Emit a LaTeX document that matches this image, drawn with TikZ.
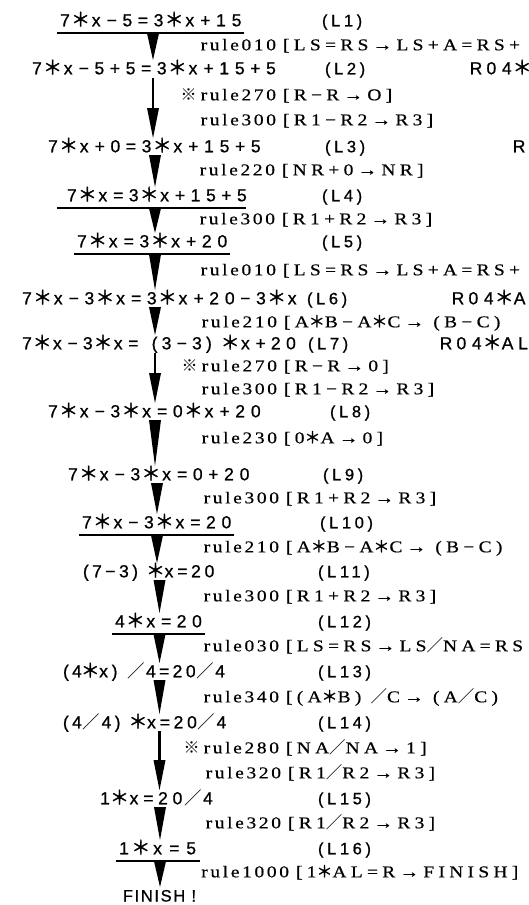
\documentclass[tikz,border=0pt]{standalone}
\usepackage{fontspec}
\setmainfont{Liberation Serif}
\newfontfamily\eqfont{Liberation Sans}[FakeBold=0.8]
\newfontfamily\lblfont{Liberation Sans}[LetterSpace=22,FakeBold=0.8]
\newfontfamily\finfont{Liberation Sans}[LetterSpace=10,FakeBold=0.8]
\newfontfamily\rnfont{Liberation Serif}[FakeStretch=1.18,LetterSpace=16,FakeBold=0.5]
\newfontfamily\rbfont{Liberation Serif}[FakeStretch=1.18,LetterSpace=26,FakeBold=0.5]
\newfontfamily\cjk{Noto Sans CJK JP}
\newfontfamily\cjkb{Noto Sans CJK JP}[FakeBold=1.5]
\newcommand\eqast{{\cjkb\fontsize{19}{19}\selectfont ＊}}
\newcommand\eqminus{−}
\newcommand\eqslash{{\cjk\fontsize{17.5}{20}\selectfont ／}}
\newcommand\rast{{\cjkb\fontsize{16}{16}\selectfont ＊}}
\newcommand\rsl{{\cjk\fontsize{16.5}{18}\selectfont ／}}
\ExplSyntaxOn
\dim_new:N \l_eqcell_w_dim
\dim_new:N \l_eqcell_f_dim
\dim_new:N \l_eqcell_s_dim
\dim_set:Nn \l_eqcell_f_dim {18pt}
\dim_set:Nn \l_eqcell_s_dim {16pt}
\cs_new_protected:Npn \eqcell_one:n #1
  {
    \str_case:nnF {#1}
      {
        {*} { \makebox[\l_eqcell_w_dim]{\eqast} }
        {-} { \makebox[\l_eqcell_w_dim]{\eqminus} }
        {(} { \makebox[\l_eqcell_f_dim][r]{(\hspace*{1.5pt}} }
        {)} { \makebox[\l_eqcell_f_dim][l]{\hspace*{1.5pt})} }
        {/} { \makebox[\l_eqcell_s_dim]{\eqslash} }
      }
      { \makebox[\l_eqcell_w_dim]{#1} }
  }
\NewDocumentCommand \eqtext { O{15.6pt} m }
  {
    \dim_set:Nn \l_eqcell_w_dim {#1}
    \str_map_function:nN {#2} \eqcell_one:n
  }
\ExplSyntaxOff
\newcommand\shortarr[4]{%
  \coordinate (#1t) at (#2,#3);
  \coordinate (#1h) at (#2,#4);
  \fill[arrtri] ([xshift=-6pt]#1t) -- ([xshift=6pt]#1t) -- (#1h) -- cycle;}
\newcommand\longarr[5]{%
  \coordinate (#1t) at (#2,#3);
  \coordinate (#1m) at (#2,#4);
  \coordinate (#1h) at (#2,#5);
  \draw[arrstem] (#1t) -- (#1m);
  \fill[arrtri] ([xshift=-6pt]#1m) -- ([xshift=6pt]#1m) -- (#1h) -- cycle;}
\begin{document}
\begin{tikzpicture}[x=1pt,y=-1pt,
  eq/.style={inner sep=0pt,outer sep=0pt,anchor=base west,font=\eqfont\fontsize{17.5}{20}\selectfont},
  lbl/.style={inner sep=0pt,outer sep=0pt,anchor=base west,font=\lblfont\fontsize{16.5}{20}\selectfont},
  sidetext/.style={inner sep=0pt,outer sep=0pt,anchor=base west,font=\eqfont\fontsize{17.5}{20}\selectfont},
  rname/.style={inner sep=0pt,outer sep=0pt,anchor=base east,font=\rnfont\fontsize{16.5}{18}\selectfont},
  rexpr/.style={inner sep=0pt,outer sep=0pt,anchor=base west,font=\rbfont\fontsize{16.5}{18}\selectfont},
  refmark/.style={inner sep=0pt,outer sep=0pt,anchor=base east,font=\cjk\fontsize{16}{18}\selectfont},
  fintext/.style={inner sep=0pt,outer sep=0pt,anchor=base,font=\finfont\fontsize{16.5}{20}\selectfont},
  uline/.style={line width=2.3pt},
  arrstem/.style={line width=2.6pt},
  arrtri/.style={fill=black}]
\fill[white] (0,0) rectangle (528,905);
\useasboundingbox (0,0) rectangle (528,905);

% equations
\node[eq] (L1) at (57.2,26.3) {\eqtext{7*x-5=3*x+15}};
\node[eq] (L2) at (29.2,74.3) {\eqtext{7*x-5+5=3*x+15+5}};
\node[eq] (L3) at (45.2,152.3) {\eqtext{7*x+0=3*x+15+5}};
\node[eq] (L4) at (64.2,201.3) {\eqtext[15.45pt]{7*x=3*x+15+5}};
\node[eq] (L5) at (74.2,247.3) {\eqtext{7*x=3*x+20}};
\node[eq] (L6) at (19.2,304.3) {\eqtext{7*x-3*x=3*x+20-3*x}};
\node[eq] (L7) at (19.4,349.3) {\eqtext[15.2pt]{7*x-3*x=(3-3)*x+20}};
\node[eq] (L8) at (45.2,417.3) {\eqtext{7*x-3*x=0*x+20}};
\node[eq] (L9) at (65.2,480.3) {\eqtext{7*x-3*x=0+20}};
\node[eq] (L10) at (79.2,528.3) {\eqtext[15.5pt]{7*x-3*x=20}};
\node[eq] (L11) at (72.25,577.3) {\eqtext[13.5pt]{(7-3)*x=20}};
\node[eq] (L12) at (112.3,627.3) {\eqtext[15.4pt]{4*x=20}};
\node[eq] (L13) at (52.35,677.3) {\eqtext[13.3pt]{(4*x)/4=20/4}};
\node[eq] (L14) at (52.25,728.3) {\eqtext[13.5pt]{(4/4)*x=20/4}};
\node[eq] (L15) at (97.75,804.3) {\eqtext[14.5pt]{1*x=20/4}};
\node[eq] (L16) at (115.6,854.3) {\eqtext[16.8pt]{1*x=5}};
\node[fintext] (FIN) at (159.5,901.5) {FINISH !};

% underlines
\draw[uline] ([yshift=-7pt]L1.base west) -- ([yshift=-7pt]L1.base east);
\draw[uline] ([xshift=-7pt,yshift=-7pt]L4.base west) -- ([xshift=-4pt,yshift=-7pt]L4.base east);
\draw[uline] ([yshift=-7pt]L5.base west) -- ([yshift=-7pt]L5.base east);
\draw[uline] ([yshift=-7pt]L10.base west) -- ([yshift=-7pt]L10.base east);
\draw[uline] ([yshift=-7pt]L12.base west) -- ([yshift=-7pt]L12.base east);
\draw[uline] ([yshift=-7pt]L16.base west) -- ([yshift=-7pt]L16.base east);

% line labels
\node[lbl] (l1) at (322,26.3) {(L1)};
\node[lbl] (l2) at (325,74.3) {(L2)};
\node[lbl] (l3) at (325,152.3) {(L3)};
\node[lbl] (l4) at (322,201.3) {(L4)};
\node[lbl] (l5) at (322,247.3) {(L5)};
\node[lbl] (l6) at (307,304.3) {(L6)};
\node[lbl] (l7) at (308,349.3) {(L7)};
\node[lbl] (l8) at (330,417.3) {(L8)};
\node[lbl] (l9) at (323,480.3) {(L9)};
\node[lbl] (l10) at (320,528.3) {(L10)};
\node[lbl] (l11) at (318,577.3) {(L11)};
\node[lbl] (l12) at (318,627.3) {(L12)};
\node[lbl] (l13) at (318,677.3) {(L13)};
\node[lbl] (l14) at (318,728.3) {(L14)};
\node[lbl] (l15) at (318,804.3) {(L15)};
\node[lbl] (l16) at (318,854.3) {(L16)};

% right-hand fragments
\node[sidetext] (s2) at (468.3,74.3) {\eqtext[15.4pt]{R04*}};
\node[sidetext] (s3) at (511.3,152.3) {\eqtext{R}};
\node[sidetext] (s6) at (450.3,304.3) {\eqtext[15.4pt]{R04*A}};
\node[sidetext] (s7) at (438.3,349.3) {\eqtext[15.4pt]{R04*AL}};

% rules
\node[rexpr] (re1) at (283,50.3) {[LS=RS→LS+A=RS+};
\node[rname] (rn1) at ([xshift=-7pt]re1.base west) {rule010};
\node[rexpr] (re2) at (283,100.3) {[R−R→O]};
\node[rname] (rn2) at ([xshift=-7pt]re2.base west) {rule270};
\node[refmark] (m2) at ([xshift=-4pt]rn2.base west) {※};
\node[rexpr] (re3) at (283,125.3) {[R1−R2→R3]};
\node[rname] (rn3) at ([xshift=-7pt]re3.base west) {rule300};
\node[rexpr] (re4) at (282,175.3) {[NR+0→NR]};
\node[rname] (rn4) at ([xshift=-7pt]re4.base west) {rule220};
\node[rexpr] (re5) at (282,224.3) {[R1+R2→R3]};
\node[rname] (rn5) at ([xshift=-7pt]re5.base west) {rule300};
\node[rexpr] (re6) at (283,275.3) {[LS=RS→LS+A=RS+};
\node[rname] (rn6) at ([xshift=-7pt]re6.base west) {rule010};
\node[rexpr] (re7) at (284,327.3) {[A\rast B−A\rast C→ (B−C)};
\node[rname] (rn7) at ([xshift=-7pt]re7.base west) {rule210};
\node[rexpr] (re8) at (284,371.3) {[R−R→0]};
\node[rname] (rn8) at ([xshift=-7pt]re8.base west) {rule270};
\node[refmark] (m8) at ([xshift=-4pt]rn8.base west) {※};
\node[rexpr] (re9) at (284,394.3) {[R1−R2→R3]};
\node[rname] (rn9) at ([xshift=-7pt]re9.base west) {rule300};
\node[rexpr] (re10) at (284,443.3) {[0\rast A→0]};
\node[rname] (rn10) at ([xshift=-7pt]re10.base west) {rule230};
\node[rexpr] (re11) at (286,503.3) {[R1+R2→R3]};
\node[rname] (rn11) at ([xshift=-7pt]re11.base west) {rule300};
\node[rexpr] (re12) at (286,552.3) {[A\rast B−A\rast C→ (B−C)};
\node[rname] (rn12) at ([xshift=-7pt]re12.base west) {rule210};
\node[rexpr] (re13) at (286,601.3) {[R1+R2→R3]};
\node[rname] (rn13) at ([xshift=-7pt]re13.base west) {rule300};
\node[rexpr] (re14) at (286,651.3) {[LS=RS→LS\rsl NA=RS};
\node[rname] (rn14) at ([xshift=-7pt]re14.base west) {rule030};
\node[rexpr] (re15) at (286,702.3) {[(A\rast B) \rsl C→ (A\rsl C)};
\node[rname] (rn15) at ([xshift=-7pt]re15.base west) {rule340};
\node[rexpr] (re16) at (286,753.3) {[NA\rsl NA→1]};
\node[rname] (rn16) at ([xshift=-7pt]re16.base west) {rule280};
\node[refmark] (m16) at ([xshift=-4pt]rn16.base west) {※};
\node[rexpr] (re17) at (288,778.3) {[R1\rsl R2→R3]};
\node[rname] (rn17) at ([xshift=-7pt]re17.base west) {rule320};
\node[rexpr] (re18) at (288,828.3) {[R1\rsl R2→R3]};
\node[rname] (rn18) at ([xshift=-7pt]re18.base west) {rule320};
\node[rexpr] (re19) at (296,877.3) {[1\rast AL=R→FINISH]};
\node[rname] (rn19) at ([xshift=-7pt]re19.base west) {rule1000};

% arrows
\shortarr{a1}{153}{33.3}{60}
\longarr{a2}{153}{78}{108}{138}
\shortarr{a3}{155}{155}{187}
\shortarr{a4}{155}{208.3}{233}
\shortarr{a5}{155}{254.3}{290}
\shortarr{a6}{155}{307}{335}
\longarr{a7}{155}{353}{373}{403}
\shortarr{a8}{155}{420}{466}
\shortarr{a9}{157}{483}{514}
\shortarr{a10}{157}{535.3}{563}
\shortarr{a11}{159.5}{580}{613}
\shortarr{a12}{159.5}{634.3}{663}
\shortarr{a13}{159.5}{680}{714}
\longarr{a14}{159.5}{731}{760}{790}
\shortarr{a15}{160}{807}{840}
\shortarr{a16}{160}{861.3}{887}
\end{tikzpicture}
\end{document}
